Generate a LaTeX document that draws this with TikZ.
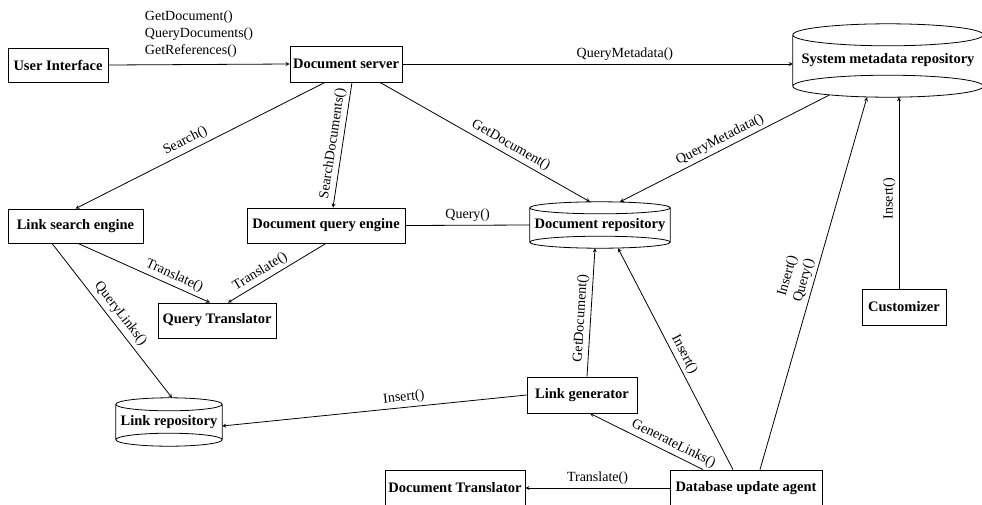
\documentclass[tikz,border=0pt]{standalone}
\usepackage{fontspec}
\setmainfont{Liberation Serif}
\usetikzlibrary{calc}

\tikzset{
  box/.style={draw, line width=0.8pt, inner sep=0pt, font=\fontsize{14.5}{17}\selectfont\bfseries},
  repo/.style={inner sep=0pt, font=\fontsize{14.5}{17}\selectfont\bfseries},
  lbl/.style={font=\fontsize{14}{17}\selectfont, inner sep=1pt},
  link/.style={line width=0.8pt, -stealth}
}

\begin{document}
\begin{tikzpicture}[x=1pt, y=-1pt]
\useasboundingbox (0,0) rectangle (982,504);
\clip (0,0) rectangle (982,504);

% components
\node [box, minimum width=100, minimum height=34] (ui) at (58,65) {User Interface};
\node [box, minimum width=112, minimum height=36] (ds) at (346,64) {Document server};
\node [repo, minimum width=190, minimum height=73] (meta) at (888,60.5) {System metadata repository};
\node [box, minimum width=135, minimum height=34] (lse) at (75.5,226) {Link search engine};
\node [box, minimum width=158, minimum height=35] (dqe) at (326,225.5) {Document query engine};
\node [repo, minimum width=140, minimum height=46] (docrepo) at (600,225) {Document repository};
\node [box, minimum width=118, minimum height=35] (qt) at (217,320.5) {Query Translator};
\node [repo, minimum width=106, minimum height=48] (linkrepo) at (169,422) {Link repository};
\node [box, minimum width=110, minimum height=36] (lg) at (582,395) {Link generator};
\node [box, minimum width=84, minimum height=36] (cust) at (904,307) {Customizer};
\node [box, minimum width=140, minimum height=36] (dt) at (455,488) {Document Translator};
\node [box, minimum width=152, minimum height=36] (dba) at (746,488) {Database update agent};

% repository outlines
\foreach \r/\ry in {meta/11pt, docrepo/6pt, linkrepo/6.5pt}
  \draw [line width=0.8pt] let \p1=(\r.north west), \p2=(\r.south east), \n1={(\x2-\x1)/2} in
    ($(\r.north)+(0,-\ry)$) ellipse [x radius=\n1, y radius=\ry]
    ($(\r.south)+(0,\ry)$) ellipse [x radius=\n1, y radius=\ry]
    (\x1,\y1-\ry) -- (\x1,\y2+\ry)
    (\x2,\y1-\ry) -- (\x2,\y2+\ry);

% calls
\draw [link] (ui.east) -- node [lbl, above=6pt, align=left] {GetDocument()\\QueryDocuments()\\GetReferences()} (ds.west);
\draw [link] (ds.east) -- node [lbl, above=2pt, pos=0.57] {QueryMetadata()} (ds.east -| meta.west);
\draw [link] ([xshift=-21]ds.south) -- node [lbl, above=3pt, sloped, pos=0.54] {Search()} (lse.north);
\draw [link] ([xshift=6]ds.south) -- node [lbl, above=2pt, sloped, pos=0.5] {SearchDocuments()} ([xshift=7]dqe.north);
\draw [link] ([xshift=34]ds.south) -- node [lbl, above=2pt, sloped, pos=0.6] {GetDocument()} ([xshift=-10]docrepo.north);
\draw [link] ([xshift=-59,yshift=2]meta.south) -- node [lbl, above=2pt, sloped, pos=0.5] {QueryMetadata()} ([xshift=20]docrepo.north);
\draw [line width=0.8pt] (dqe.east) -- node [lbl, above=2pt, pos=0.5] {Query()} (docrepo.west);
\draw [link] ([xshift=2.5]lse.south) -- node [lbl, above=2pt, sloped, pos=0.7] {Translate()} ([xshift=-7]qt.north);
\draw [link] (dqe.south) -- node [lbl, above=2pt, sloped, pos=0.62] {Translate()} ([xshift=11]qt.north);
\draw [link] ([xshift=-23.5]lse.south) -- node [lbl, above=3pt, sloped, pos=0.5] {QueryLinks()} ([xshift=3]linkrepo.north);
\draw [link] (lg.west) -- node [lbl, above=2pt, sloped, pos=0.4] {Insert()} ([yshift=-4]linkrepo.east);
\draw [link] ([xshift=5]lg.north) -- node [lbl, above=2pt, sloped, pos=0.45] {GetDocument()} ([xshift=-5]docrepo.south);
\draw [link] ([xshift=-13]dba.north) -- node [lbl, above=2pt, sloped, pos=0.5] {Insert()} ([xshift=18]docrepo.south);
\draw [link] ([xshift=-43]dba.north) -- node [lbl, above=2pt, sloped, pos=0.3] {GenerateLinks()} ([xshift=8]lg.south);
\draw [link] (dba.west) -- node [lbl, above=2pt, pos=0.5] {Translate()} (dt.east);
\draw [link] ([xshift=14]dba.north) -- node [lbl, above=2pt, sloped, pos=0.5, align=center] {Insert()\\Query()} ([xshift=-21]meta.south);
\draw [link] ([xshift=-5]cust.north) -- node [lbl, above=2pt, sloped, pos=0.47] {Insert()} ([xshift=-5]cust.north |- meta.south);
\end{tikzpicture}
\end{document}
